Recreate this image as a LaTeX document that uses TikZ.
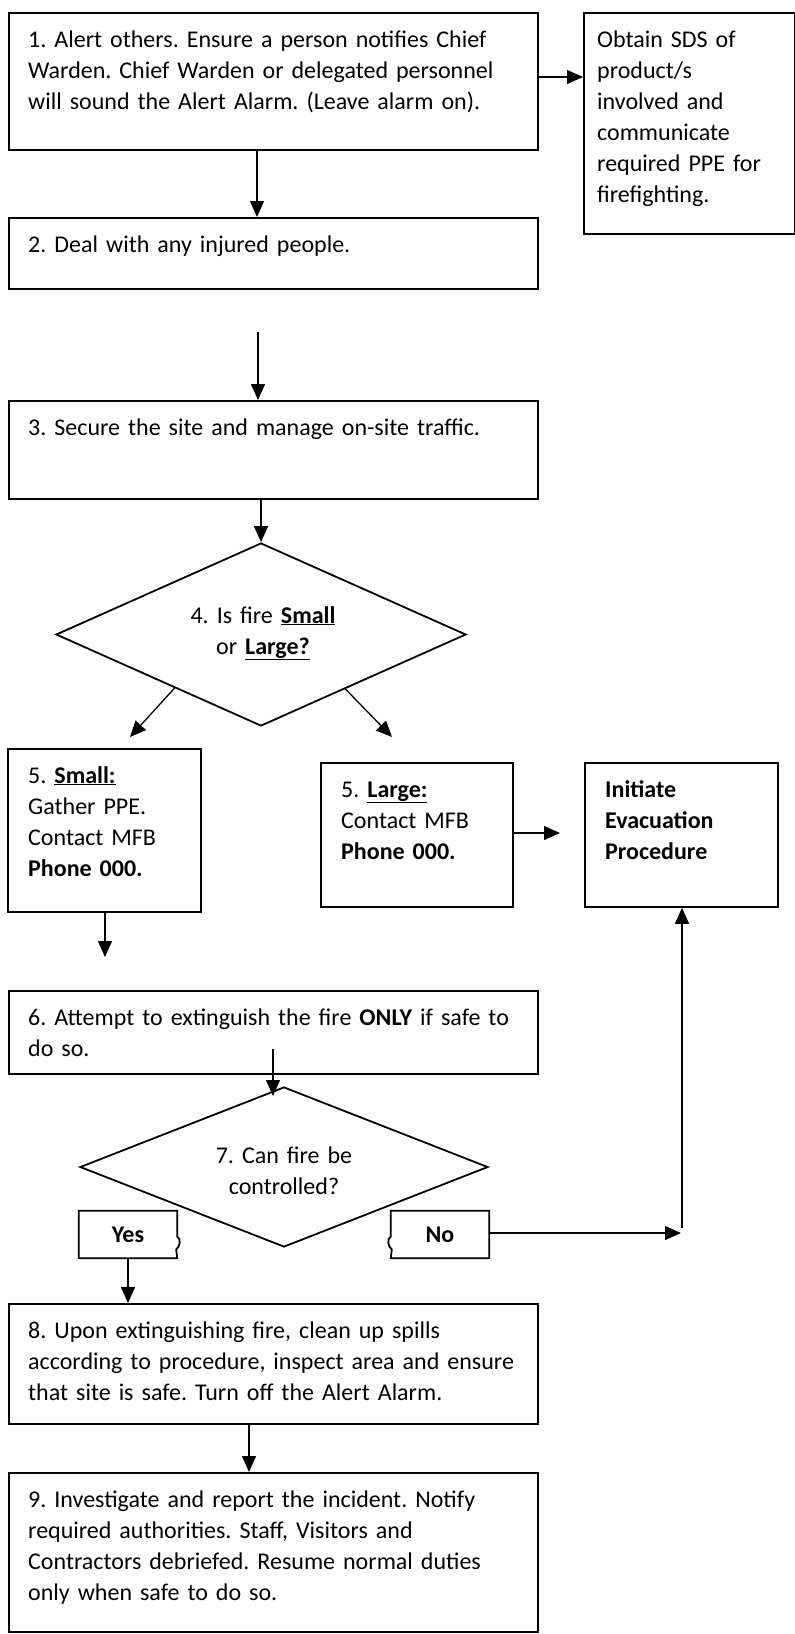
\documentclass[tikz,border=0pt]{standalone}
\usepackage{fontspec}
\setmainfont{Carlito}
\frenchspacing
\usetikzlibrary{arrows.meta,shapes.geometric,calc}
\begin{document}
\begin{tikzpicture}[x=1pt,y=-1pt,
 box/.style={draw, line width=1.8pt, inner sep=0pt, anchor=north west},
 txt/.style={inner sep=0pt, anchor=base west, align=left, text width=520pt, font=\fontsize{24}{31}\selectfont},
 ctxt/.style={inner sep=0pt, anchor=base, align=center, text width=300pt, font=\fontsize{24}{31}\selectfont},
 arr/.style={line width=1.3pt, -{Triangle[length=16pt,width=14pt]}},
 dia/.style={draw, diamond, line width=1.8pt, inner sep=0pt},
 tab/.style={inner sep=0pt, minimum width=98pt, minimum height=47pt, font=\fontsize{24}{31}\selectfont\bfseries}]
\useasboundingbox (0,0) rectangle (795,1634);

% boxes
\node[box, minimum width=529pt, minimum height=137pt] (b1) at (8,12) {};
\node[box, minimum width=211pt, minimum height=221pt] (sds) at (583,12) {};
\node[box, minimum width=529pt, minimum height=71pt] (b2) at (8,217) {};
\node[box, minimum width=529pt, minimum height=98pt] (b3) at (8,400) {};
\node[box, minimum width=193pt, minimum height=163pt] (small) at (7,748) {};
\node[box, minimum width=192pt, minimum height=144pt] (large) at (320,762) {};
\node[box, minimum width=193pt, minimum height=144pt] (init) at (584,762) {};
\node[box, minimum width=529pt, minimum height=83pt] (b6) at (8,990) {};
\node[box, minimum width=529pt, minimum height=120pt] (b8) at (8,1303) {};
\node[box, minimum width=529pt, minimum height=159pt] (b9) at (8,1472) {};

% diamonds
\node[dia, minimum width=410pt, minimum height=183pt] (d4) at (261,634.5) {};
\node[dia, minimum width=408pt, minimum height=160pt] (d7) at (284,1167) {};

% texts
\node[txt] (t1) at (28,47) {1. Alert others. Ensure a person notifies Chief\\Warden. Chief Warden or delegated personnel\\will sound the Alert Alarm. (Leave alarm on).};
\node[txt, text width=190pt] (tsds) at (597,47) {Obtain SDS of\\product/s\\involved and\\communicate\\required PPE for\\firefighting.};
\node[txt] (t2) at (28,252) {2. Deal with any injured people.};
\node[txt] (t3) at (28,435) {3. Secure the site and manage on-site traffic.};
\node[ctxt] (t4) at (263,623) {4. Is fire \underline{\textbf{Small}}\\or \underline{\textbf{Large?}}};
\node[txt, text width=175pt] (tsmall) at (28,783) {5. \underline{\textbf{Small:}}\\Gather PPE.\\Contact MFB\\\textbf{Phone 000.}};
\node[txt, text width=170pt] (tlarge) at (341,797) {5. \underline{\textbf{Large:}}\\Contact MFB\\\textbf{Phone 000.}};
\node[txt, text width=170pt] (tinit) at (605,797) {\textbf{Initiate}\\\textbf{Evacuation}\\\textbf{Procedure}};
\node[txt] (t6) at (28,1025) {6. Attempt to extinguish the fire \textbf{ONLY} if safe to\\do so.};
\node[ctxt] (t7) at (284,1163) {7. Can fire be\\controlled?};
\node[txt] (t8) at (28,1338) {8. Upon extinguishing fire, clean up spills\\according to procedure, inspect area and ensure\\that site is safe. Turn off the Alert Alarm.};
\node[txt] (t9) at (28,1507) {9. Investigate and report the incident. Notify\\required authorities. Staff, Visitors and\\Contractors debriefed. Resume normal duties\\only when safe to do so.};

% yes / no tabs
\node[tab] (yes) at (128,1234.5) {Yes};
\node[tab] (no) at (440,1234.5) {No};
\draw[line width=1.8pt, fill=white] (yes.north west) -- (yes.north east) -- ($(yes.east)+(0,2)$)
  .. controls ($(yes.east)+(4,4)$) and ($(yes.east)+(3,12)$) .. ($(yes.east)+(-1,15)$)
  -- (yes.south east) -- (yes.south west) -- cycle;
\node[tab] at (yes) {Yes};
\draw[line width=1.8pt, fill=white] (no.north east) -- (no.north west) -- ($(no.west)+(0,2)$)
  .. controls ($(no.west)+(-4,4)$) and ($(no.west)+(-3,12)$) .. ($(no.west)+(1,15)$)
  -- (no.south west) -- (no.south east) -- cycle;
\node[tab] at (no) {No};

% free ends
\coordinate (f1) at (258,332);
\coordinate (e4l) at (130,737);
\coordinate (e4r) at (392,737);
\coordinate (elarge) at (560,833);
\coordinate (esmall) at (105,957);
\coordinate (s6) at (273,1049);
\coordinate (e6) at (273,1096);
\coordinate (vno) at (681,1233);
\coordinate (v0) at (682,1228);

% connectors
\draw[arr] ($(b1.north east)+(0,65)$) -- ($(sds.north west)+(0,65)$);
\draw[arr] ($(b1.south west)+(249,0)$) -- ($(b2.north west)+(249,0)$);
\draw[arr] (f1) -- (f1 |- b3.north);
\draw[arr] (d4.north |- b3.south) -- (d4.north);
\draw[arr] ($(d4.west)!0.58!(d4.south)$) -- (e4l);
\draw[arr] ($(d4.south)!0.41!(d4.east)$) -- (e4r);
\draw[arr] ($(large.north east)+(0,71)$) -- (elarge);
\draw[arr] ($(small.south west)+(98,0)$) -- (esmall);
\draw[arr] (s6) -- (e6);
\draw[arr] (yes.south) -- (yes.south |- b8.north);
\draw[arr] (no.east |- vno) -- (vno);
\draw[arr] (v0) -- (v0 |- init.south);
\draw[arr] ($(b8.south west)+(241,0)$) -- ($(b9.north west)+(241,0)$);
\end{tikzpicture}
\end{document}
